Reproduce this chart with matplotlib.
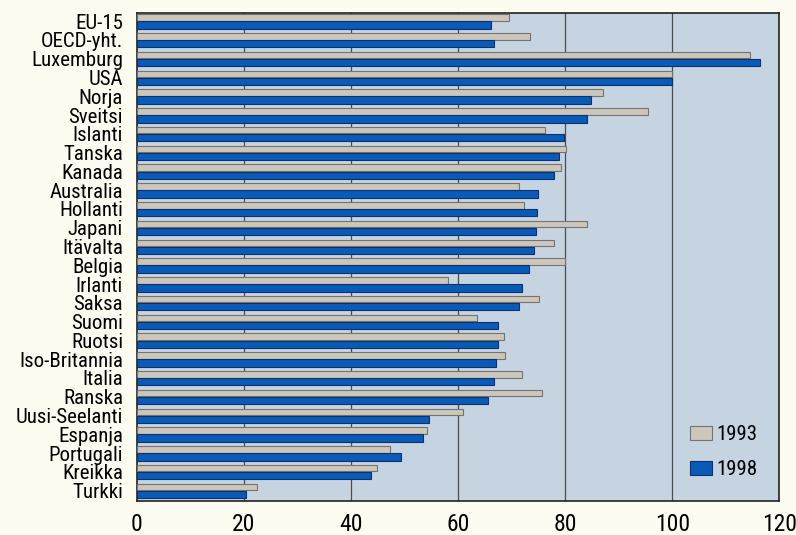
import numpy as np
import matplotlib
matplotlib.use("Agg")
import matplotlib.pyplot as plt

countries = ["EU-15", "OECD-yht.", "Luxemburg", "USA", "Norja", "Sveitsi",
             "Islanti", "Tanska", "Kanada", "Australia", "Hollanti", "Japani",
             "Itävalta", "Belgia", "Irlanti", "Saksa", "Suomi", "Ruotsi",
             "Iso-Britannia", "Italia", "Ranska", "Uusi-Seelanti", "Espanja",
             "Portugali", "Kreikka", "Turkki"]

v1993 = [69.6, 73.4, 114.6, 100.0, 87.0, 95.5, 76.3, 80.2, 79.2, 71.3, 72.3,
         84.0, 77.9, 79.9, 58.1, 75.2, 63.5, 68.5, 68.7, 71.9, 75.7, 60.9,
         54.1, 47.2, 44.9, 22.4]
v1998 = [66.2, 66.8, 116.4, 100.0, 84.9, 84.1, 79.7, 78.9, 78.0, 75.0, 74.8,
         74.6, 74.1, 73.3, 71.9, 71.3, 67.5, 67.5, 67.0, 66.7, 65.5, 54.5,
         53.4, 49.3, 43.8, 20.3]

xticks = [0, 20, 40, 60, 80, 100, 120]

plt.rcParams['font.family'] = ['Roboto Condensed', 'Liberation Sans', 'DejaVu Sans']

fig = plt.figure(figsize=(7.96, 5.35), dpi=100, facecolor='#fdfcf0')
ax = fig.add_axes([0.172, 0.0636, 0.807, 0.912])
ax.set_facecolor('#c6d4e2')

y = np.arange(len(countries))
# gray bar on top, blue just below it
ax.barh(y - 0.195, v1993, height=0.35, color='#cbc7bd', edgecolor='#77726c',
        linewidth=0.8, label='1993', zorder=3)
ax.barh(y + 0.205, v1998, height=0.39, color='#0a5bb5', edgecolor='#0b3270',
        linewidth=0.8, label='1998', zorder=3)

for xv in [20, 40, 60, 80, 100]:
    ax.axvline(xv, color='#4a4a4a', linewidth=0.9, zorder=1)

ax.set_xlim(0, 120)
ax.set_ylim(len(countries) - 0.45, -0.43)
ax.set_xticks(xticks)
ax.set_xticklabels([str(t) for t in xticks], fontsize=17)
ax.set_yticks(y)
ax.set_yticklabels(countries, fontsize=15)
ax.tick_params(axis='both', length=0)
ax.tick_params(axis='x', pad=9)
ax.tick_params(axis='y', pad=10)
for s in ax.spines.values():
    s.set_linewidth(1.2)
    s.set_color('#222222')

ax.legend(loc='lower right', bbox_to_anchor=(0.966, 0.045), frameon=False,
          fontsize=15, handlelength=1.05, handleheight=0.65, labelspacing=0.75,
          handletextpad=0.2, borderpad=0, borderaxespad=0)

plt.savefig("out.png", dpi=100, facecolor=fig.get_facecolor())
